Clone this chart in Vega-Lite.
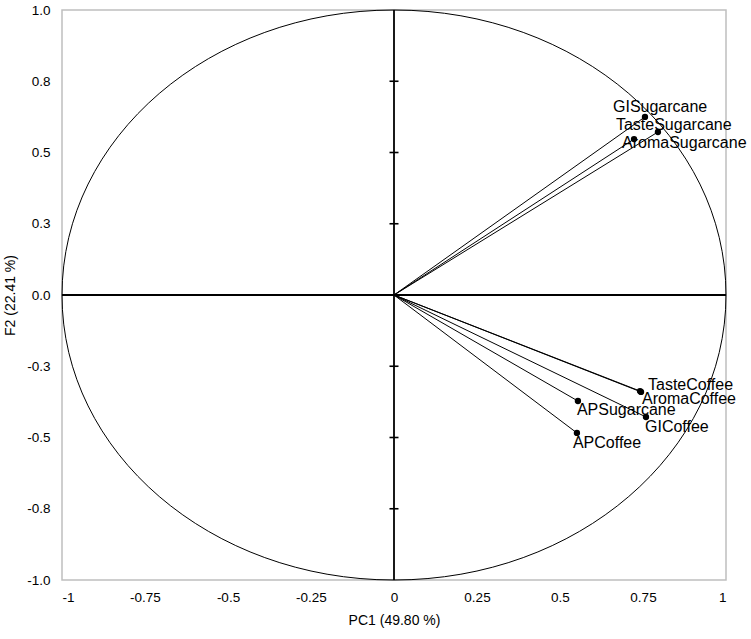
{
  "$schema": "https://vega.github.io/schema/vega-lite/v6.json",
  "width": 664,
  "height": 570,
  "autosize": {"type": "none"},
  "padding": {"left": 62, "top": 10, "right": 25, "bottom": 59},
  "background": "white",
  "config": {
    "view": {"stroke": "#bfbfbf", "strokeWidth": 1.5},
    "font": "Liberation Sans",
    "axis": {
      "domain": false, "ticks": false, "grid": false,
      "labelFont": "Liberation Sans", "labelFontSize": 13.5, "labelColor": "#000",
      "titleFont": "Liberation Sans", "titleFontSize": 14, "titleFontWeight": "normal", "titleColor": "#000"
    }
  },
  "datasets": {
    "vars": [
      {"name": "GISugarcane", "pc1": 0.756, "f2": 0.625},
      {"name": "TasteSugarcane", "pc1": 0.795, "f2": 0.572},
      {"name": "AromaSugarcane", "pc1": 0.723, "f2": 0.547},
      {"name": "TasteCoffee", "pc1": 0.744, "f2": -0.340},
      {"name": "AromaCoffee", "pc1": 0.741, "f2": -0.337},
      {"name": "APSugarcane", "pc1": 0.554, "f2": -0.372},
      {"name": "GICoffee", "pc1": 0.759, "f2": -0.428},
      {"name": "APCoffee", "pc1": 0.551, "f2": -0.484}
    ],
    "origin": [{"pc1": 0, "f2": 0}],
    "zticks": [{"pc1": 0, "f2": -0.75}, {"pc1": 0, "f2": -0.5}, {"pc1": 0, "f2": -0.25}, {"pc1": 0, "f2": 0.25}, {"pc1": 0, "f2": 0.5}, {"pc1": 0, "f2": 0.75}]
  },
  "encoding": {
    "x": {"field": "pc1", "type": "quantitative",
      "scale": {"domain": [-1, 1], "nice": false, "zero": false},
      "axis": {"values": [-1, -0.75, -0.5, -0.25, 0, 0.25, 0.5, 0.75, 1], "labelExpr": "toString(datum.value)", "labelPadding": 10, "title": "PC1 (49.80 %)", "titlePadding": 10}},
    "y": {"field": "f2", "type": "quantitative",
      "scale": {"domain": [-1, 1], "nice": false, "zero": false},
      "axis": {"values": [-1, -0.75, -0.5, -0.25, 0, 0.25, 0.5, 0.75, 1], "labelExpr": "replace(format(datum.value, '.1f'), '\u2212', '-')", "labelPadding": 12, "title": "F2 (22.41 %)", "titlePadding": 9}}
  },
  "layer": [
    {
      "data": {"name": "origin"},
      "mark": {"type": "point", "filled": false, "stroke": "#000", "strokeWidth": 1, "opacity": 1,
        "shape": "M1.1649,0C1.1649,0.55228,0.64335,1,0,1C-0.64335,1,-1.1649,0.55228,-1.1649,0C-1.1649,-0.55228,-0.64335,-1,0,-1C0.64335,-1,1.1649,-0.55228,1.1649,0Z",
        "size": 324900}
    },
    {
      "data": {"name": "origin"},
      "mark": {"type": "rule", "color": "#000", "strokeWidth": 1.8},
      "encoding": {"x": {"datum": 0}, "y": null}
    },
    {
      "data": {"name": "origin"},
      "mark": {"type": "rule", "color": "#000", "strokeWidth": 1.8},
      "encoding": {"y": {"datum": 0}, "x": null}
    },
    {
      "data": {"name": "zticks"},
      "mark": {"type": "point", "filled": false, "stroke": "#000", "strokeWidth": 1.6, "opacity": 1, "shape": "M-1,0L1,0", "size": 81}
    },
    {
      "data": {"name": "vars"},
      "mark": {"type": "rule", "color": "#000", "strokeWidth": 1},
      "encoding": {"x2": {"datum": 0}, "y2": {"datum": 0}}
    },
    {
      "data": {"name": "vars"},
      "mark": {"type": "point", "filled": true, "color": "#000", "size": 40, "opacity": 1}
    },
    {
      "data": {"name": "vars"},
      "transform": [{"filter": "datum.name == 'GISugarcane'"}],
      "mark": {"type": "text", "align": "left", "baseline": "middle", "fontSize": 16, "font": "Liberation Sans", "color": "#000", "dx": -32, "dy": -10},
      "encoding": {"text": {"field": "name"}}
    },
    {
      "data": {"name": "vars"},
      "transform": [{"filter": "datum.name == 'TasteSugarcane'"}],
      "mark": {"type": "text", "align": "left", "baseline": "middle", "fontSize": 16, "font": "Liberation Sans", "color": "#000", "dx": -42, "dy": -7},
      "encoding": {"text": {"field": "name"}}
    },
    {
      "data": {"name": "vars"},
      "transform": [{"filter": "datum.name == 'AromaSugarcane'"}],
      "mark": {"type": "text", "align": "left", "baseline": "middle", "fontSize": 16, "font": "Liberation Sans", "color": "#000", "dx": -12, "dy": 4},
      "encoding": {"text": {"field": "name"}}
    },
    {
      "data": {"name": "vars"},
      "transform": [{"filter": "datum.name == 'TasteCoffee'"}],
      "mark": {"type": "text", "align": "left", "baseline": "middle", "fontSize": 16, "font": "Liberation Sans", "color": "#000", "dx": 7, "dy": -7},
      "encoding": {"text": {"field": "name"}}
    },
    {
      "data": {"name": "vars"},
      "transform": [{"filter": "datum.name == 'AromaCoffee'"}],
      "mark": {"type": "text", "align": "left", "baseline": "middle", "fontSize": 16, "font": "Liberation Sans", "color": "#000", "dx": 2, "dy": 8},
      "encoding": {"text": {"field": "name"}}
    },
    {
      "data": {"name": "vars"},
      "transform": [{"filter": "datum.name == 'APSugarcane'"}],
      "mark": {"type": "text", "align": "left", "baseline": "middle", "fontSize": 16, "font": "Liberation Sans", "color": "#000", "dx": -1, "dy": 9},
      "encoding": {"text": {"field": "name"}}
    },
    {
      "data": {"name": "vars"},
      "transform": [{"filter": "datum.name == 'GICoffee'"}],
      "mark": {"type": "text", "align": "left", "baseline": "middle", "fontSize": 16, "font": "Liberation Sans", "color": "#000", "dx": -1, "dy": 10},
      "encoding": {"text": {"field": "name"}}
    },
    {
      "data": {"name": "vars"},
      "transform": [{"filter": "datum.name == 'APCoffee'"}],
      "mark": {"type": "text", "align": "left", "baseline": "middle", "fontSize": 16, "font": "Liberation Sans", "color": "#000", "dx": -4, "dy": 10},
      "encoding": {"text": {"field": "name"}}
    }
  ]
}
